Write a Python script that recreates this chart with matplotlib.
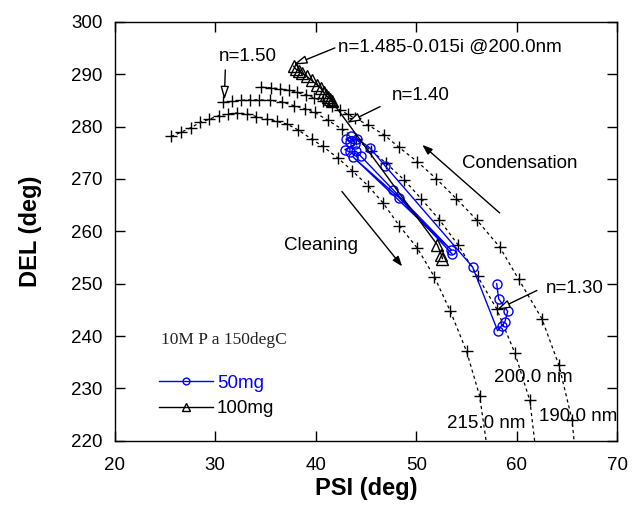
import matplotlib
matplotlib.use('agg')
import matplotlib.pyplot as plt

plt.rcParams['font.family'] = ['Liberation Sans', 'DejaVu Sans']

# model curves (PSI, DEL) for fixed wavelength, n varying
psi_215 = [25.6, 26.6, 27.6, 28.5, 29.4, 30.4, 31.3, 32.2, 33.2, 34.1, 35.1, 36.1, 37.1,
           38.2, 39.6, 40.7, 42.2, 43.6, 45.2, 46.7, 48.3, 50.1, 51.8, 53.4, 55.0, 56.3, 57.1]
del_215 = [278.1, 278.9, 279.8, 280.8, 281.4, 282.1, 282.4, 282.6, 282.4, 281.9, 281.4, 281.0, 280.5,
           279.4, 277.6, 276.2, 274.0, 271.6, 268.7, 265.4, 261.1, 256.8, 251.3, 244.7, 237.1, 228.6, 218.0]

psi_200 = [30.8, 31.7, 32.6, 33.5, 34.4, 35.4, 36.6, 37.8, 38.9, 39.9, 41.2, 42.6,
           44.0, 45.5, 47.0, 48.8, 50.5, 52.3, 54.2, 56.1, 58.0, 59.8, 61.3, 61.9]
del_200 = [284.6, 284.8, 285.0, 285.1, 285.1, 285.0, 284.7, 284.0, 283.4, 282.7, 281.2, 279.5,
           277.6, 275.4, 273.0, 269.8, 266.2, 262.2, 257.3, 251.4, 245.2, 236.8, 227.7, 218.0]

psi_190 = [34.6, 35.5, 36.4, 37.3, 38.1, 39.0, 39.8, 40.7, 41.6, 42.4, 43.2, 43.9, 45.2,
           46.8, 48.3, 50.1, 52.0, 54.0, 56.0, 58.3, 60.2, 62.5, 64.2, 65.5, 65.8]
del_190 = [287.5, 287.4, 287.2, 286.9, 286.5, 286.1, 285.5, 284.8, 284.0, 283.2, 282.3, 281.6, 280.3,
           278.4, 276.0, 273.3, 270.0, 266.2, 262.2, 257.0, 250.8, 243.3, 234.4, 224.0, 218.0]

# measured data
psi_50 = [58.0, 58.2, 59.1, 58.8, 58.5, 58.1, 55.6, 46.9, 45.4, 44.1, 43.5, 43.0, 43.4, 43.9,
          42.9, 43.4, 44.0, 44.5, 47.7, 53.5, 43.7, 48.3, 53.6]
del_50 = [250.0, 247.1, 244.7, 242.6, 242.0, 241.0, 253.2, 272.5, 275.9, 277.7, 278.1, 277.6, 277.0, 276.6,
          275.6, 275.1, 275.3, 274.3, 267.9, 256.4, 274.2, 266.4, 255.6]

psi_100 = [37.8, 38.0, 38.3, 38.6, 39.1, 39.6, 40.1, 40.5, 40.8, 41.0, 41.2, 41.4, 41.6, 52.1, 52.5, 52.6]
del_100 = [291.5, 291.0, 290.6, 290.2, 289.6, 288.8, 288.0, 287.3, 286.5, 286.0, 285.6, 285.3, 284.8,
           257.4, 255.5, 254.8]

fig = plt.figure(figsize=(6.41, 5.18), dpi=100)
ax = fig.add_axes([0.179, 0.149, 0.784, 0.809])

for px, dl in [(psi_215, del_215), (psi_200, del_200), (psi_190, del_190)]:
    ax.plot(px, dl, color='black', lw=0.9, ls=(0, (2.5, 2.5)), marker='+', ms=9, mew=1.0,
            markevery=slice(0, len(px) - 1))

l50, = ax.plot(psi_50, del_50, color='#0000ff', lw=1.0, marker='o', ms=6.5, mfc='none',
               mec='#0000ff', mew=1.0, label='50mg')
l100, = ax.plot(psi_100, del_100, color='black', lw=1.0, marker='^', ms=8, mfc='none',
                mec='black', mew=1.0, label='100mg')

ax.set_xlim(20, 70)
ax.set_ylim(220, 300)
ax.set_xticks(range(20, 71, 10))
ax.set_yticks(range(220, 301, 10))
ax.tick_params(direction='in', length=7, width=1, top=True, right=True, labelsize=13.5)
ax.tick_params(axis='x', pad=12)
ax.tick_params(axis='y', pad=9)
for s in ax.spines.values():
    s.set_linewidth(1.0)
ax.set_xlabel('PSI (deg)', fontsize=17, fontweight='bold', labelpad=2)
ax.set_ylabel('DEL (deg)', fontsize=17, fontweight='bold', labelpad=21)

hollow = dict(arrowstyle='-|>,head_length=0.8,head_width=0.25', fc='white', ec='black', lw=1.0,
              shrinkA=0, shrinkB=0)
solid = dict(arrowstyle='-|>,head_length=0.6,head_width=0.22', fc='black', ec='black', lw=1.0,
             shrinkA=0, shrinkB=0)
fs = 13.5

ax.annotate('', xy=(30.9, 285.1), xytext=(31.0, 290.8), arrowprops=hollow)
ax.text(33.2, 293.4, 'n=1.50', fontsize=fs, ha='center', va='center')

ax.annotate('', xy=(37.8, 291.8), xytext=(41.9, 295.0), arrowprops=hollow)
ax.text(42.2, 295.2, 'n=1.485-0.015i @200.0nm', fontsize=fs, ha='left', va='center')

ax.annotate('', xy=(43.1, 280.7), xytext=(46.4, 283.8), arrowprops=hollow)
ax.text(47.6, 285.9, 'n=1.40', fontsize=fs, ha='left', va='center')

ax.annotate('', xy=(58.0, 245.0), xytext=(62.0, 248.7), arrowprops=hollow)
ax.text(62.9, 249.0, 'n=1.30', fontsize=fs, ha='left', va='center')

ax.annotate('', xy=(50.6, 276.5), xytext=(58.3, 263.5), arrowprops=solid)
ax.text(54.6, 272.9, 'Condensation', fontsize=fs, ha='left', va='center')

ax.annotate('', xy=(48.6, 253.3), xytext=(42.6, 267.6), arrowprops=solid)
ax.text(44.2, 257.2, 'Cleaning', fontsize=fs, ha='right', va='center')

ax.text(61.6, 232.1, '200.0 nm', fontsize=fs, ha='center', va='center')
ax.text(57.0, 223.3, '215.0 nm', fontsize=fs, ha='center', va='center')
ax.text(66.1, 224.6, '190.0 nm', fontsize=fs, ha='center', va='center')

ax.text(24.6, 239.2, '10M P a 150degC', fontsize=12.5, ha='left', va='center',
        family=['Liberation Serif', 'DejaVu Serif'], color='#222222')

leg = ax.legend(handles=[l50, l100], loc='upper left', bbox_to_anchor=(0.088, 0.158),
                frameon=False, fontsize=fs, handlelength=2.9, handletextpad=0.2,
                borderpad=0, borderaxespad=0, labelspacing=0.45, markerscale=0.75)
leg.get_texts()[0].set_color('#0000ff')

fig.savefig('out.png', dpi=100)
